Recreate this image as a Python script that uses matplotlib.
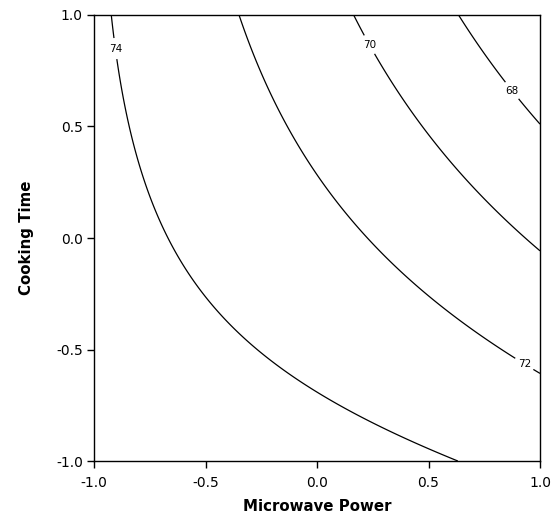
import numpy as np
import matplotlib.pyplot as plt

plt.rcParams['font.family'] = 'DejaVu Sans'
plt.rcParams['axes.unicode_minus'] = False

# contour traces (coded units), one set per level
levels = [68, 70, 72, 74]
x68 = [0.641, 0.761, 0.910, 0.985]
y68 = [1.000, 0.806, 0.611, 0.522]
x70 = [0.170, 0.283, 0.402, 0.522, 0.671, 0.821, 0.985]
y70 = [1.000, 0.791, 0.582, 0.432, 0.283, 0.103, -0.046]
x72 = [-0.345, -0.270, -0.181, -0.076, 0.013, 0.133, 0.283, 0.447, 0.641, 0.851]
y72 = [1.000, 0.776, 0.552, 0.372, 0.268, 0.103, -0.046, -0.211, -0.345, -0.525]
x74 = [-0.919, -0.809, -0.768, -0.723, -0.641, -0.552, -0.447, -0.357, -0.193, -0.028, 0.121, 0.596]
y74 = [1.000, 0.395, 0.245, 0.111, -0.054, -0.203, -0.323, -0.413, -0.562, -0.674, -0.756, -0.996]

# fit a quadratic response surface through the traced points
px = np.concatenate([x68, x70, x72, x74])
py = np.concatenate([y68, y70, y72, y74])
pz = np.concatenate([np.full(len(x68), 68), np.full(len(x70), 70),
                     np.full(len(x72), 72), np.full(len(x74), 74)])
A = np.column_stack([np.ones_like(px), px, py, px**2, py**2, px * py])
coef, *_ = np.linalg.lstsq(A, pz, rcond=None)

g = np.linspace(-1, 1, 301)
X, Y = np.meshgrid(g, g)
Z = (coef[0] + coef[1] * X + coef[2] * Y + coef[3] * X**2
     + coef[4] * Y**2 + coef[5] * X * Y)

fig = plt.figure(figsize=(5.53, 5.17), dpi=100)
ax = fig.add_axes([0.170, 0.1083, 0.8065, 0.8627])

cs = ax.contour(X, Y, Z, levels=levels, colors='black', linewidths=0.9)
labels = ax.clabel(cs, fmt='%d', fontsize=7.5, inline=True, inline_spacing=4,
                   manual=[(0.86, 0.65), (0.24, 0.87), (0.92, -0.58), (-0.9, 0.85)])
for t in labels:
    t.set_rotation(0)

ax.set_xlim(-1, 1)
ax.set_ylim(-1, 1)
ticks = [-1.0, -0.5, 0.0, 0.5, 1.0]
ax.set_xticks(ticks)
ax.set_yticks(ticks)
ax.set_xticklabels([f'{t:.1f}' for t in ticks])
ax.set_yticklabels([f'{t:.1f}' for t in ticks])
ax.tick_params(direction='out', length=5, width=1, labelsize=10)
ax.tick_params(axis='x', pad=6)
ax.tick_params(axis='y', pad=3)
for s in ax.spines.values():
    s.set_linewidth(1)
ax.set_xlabel('Microwave Power', fontsize=10.8, fontweight='bold', labelpad=6)
ax.set_ylabel('Cooking Time', fontsize=10.8, fontweight='bold', labelpad=16)

fig.savefig('out.png', dpi=100)
